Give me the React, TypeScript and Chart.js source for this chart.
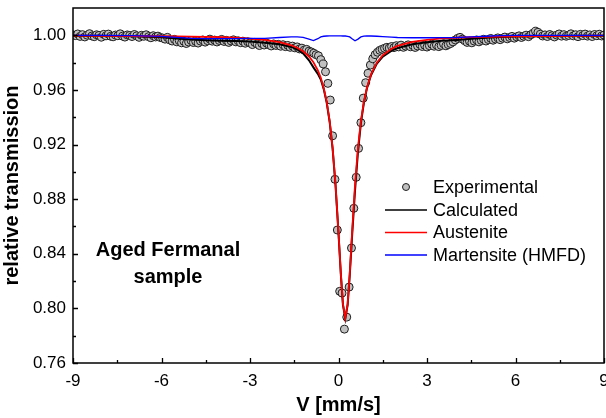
import { useEffect, useRef } from "react";
import { Chart, registerables } from "chart.js";

Chart.register(...registerables);

// Velocity channels (mm/s)
const VELOCITY = [
  -9.00, -8.92, -8.84, -8.76, -8.68, -8.60, -8.52, -8.44, -8.36, -8.28,
  -8.20, -8.12, -8.04, -7.96, -7.88, -7.80, -7.72, -7.64, -7.56, -7.48,
  -7.40, -7.32, -7.24, -7.16, -7.08, -7.00, -6.92, -6.84, -6.76, -6.68,
  -6.60, -6.52, -6.44, -6.36, -6.28, -6.20, -6.12, -6.04, -5.96, -5.88,
  -5.80, -5.72, -5.64, -5.56, -5.48, -5.40, -5.32, -5.24, -5.16, -5.08,
  -5.00, -4.92, -4.84, -4.76, -4.68, -4.60, -4.52, -4.44, -4.36, -4.28,
  -4.20, -4.12, -4.04, -3.96, -3.88, -3.80, -3.72, -3.64, -3.56, -3.48,
  -3.40, -3.32, -3.24, -3.16, -3.08, -3.00, -2.92, -2.84, -2.76, -2.68,
  -2.60, -2.52, -2.44, -2.36, -2.28, -2.20, -2.12, -2.04, -1.96, -1.88,
  -1.80, -1.72, -1.64, -1.56, -1.48, -1.40, -1.32, -1.24, -1.16, -1.08,
  -1.00, -0.92, -0.84, -0.76, -0.68, -0.60, -0.52, -0.44, -0.36, -0.28,
  -0.20, -0.12, -0.04, 0.04, 0.12, 0.20, 0.28, 0.36, 0.44, 0.52,
  0.60, 0.68, 0.76, 0.84, 0.92, 1.00, 1.08, 1.16, 1.24, 1.32,
  1.40, 1.48, 1.56, 1.64, 1.72, 1.80, 1.88, 1.96, 2.04, 2.12,
  2.20, 2.28, 2.36, 2.44, 2.52, 2.60, 2.68, 2.76, 2.84, 2.92,
  3.00, 3.08, 3.16, 3.24, 3.32, 3.40, 3.48, 3.56, 3.64, 3.72,
  3.80, 3.88, 3.96, 4.04, 4.12, 4.20, 4.28, 4.36, 4.44, 4.52,
  4.60, 4.68, 4.76, 4.84, 4.92, 5.00, 5.08, 5.16, 5.24, 5.32,
  5.40, 5.48, 5.56, 5.64, 5.72, 5.80, 5.88, 5.96, 6.04, 6.12,
  6.20, 6.28, 6.36, 6.44, 6.52, 6.60, 6.68, 6.76, 6.84, 6.92,
  7.00, 7.08, 7.16, 7.24, 7.32, 7.40, 7.48, 7.56, 7.64, 7.72,
  7.80, 7.88, 7.96, 8.04, 8.12, 8.20, 8.28, 8.36, 8.44, 8.52,
  8.60, 8.68, 8.76, 8.84, 8.92, 9.00,
];

// Measured relative transmission
const EXPERIMENTAL = [
  1.0003, 0.9998, 1.0010, 0.9992, 1.0005, 0.9988, 1.0001, 1.0012, 0.9995, 0.9990,
  1.0004, 0.9999, 0.9986, 1.0007, 0.9996, 1.0009, 0.9993, 0.9989, 1.0002, 0.9997,
  1.0011, 0.9994, 0.9987, 1.0003, 0.9999, 0.9991, 1.0006, 0.9996, 0.9985, 1.0000,
  0.9993, 1.0004, 0.9990, 0.9982, 0.9997, 0.9988, 0.9994, 0.9984, 0.9980, 0.9972,
  0.9985, 0.9966, 0.9958, 0.9970, 0.9952, 0.9961, 0.9945, 0.9956, 0.9940, 0.9951,
  0.9962, 0.9947, 0.9955, 0.9943, 0.9958, 0.9966, 0.9950, 0.9961, 0.9972, 0.9957,
  0.9965, 0.9951, 0.9962, 0.9970, 0.9955, 0.9963, 0.9948, 0.9959, 0.9967, 0.9952,
  0.9960, 0.9946, 0.9957, 0.9942, 0.9953, 0.9944, 0.9932, 0.9948, 0.9936, 0.9925,
  0.9940, 0.9929, 0.9943, 0.9931, 0.9922, 0.9937, 0.9926, 0.9934, 0.9920, 0.9931,
  0.9917, 0.9926, 0.9912, 0.9921, 0.9908, 0.9915, 0.9900, 0.9906, 0.9892, 0.9897,
  0.9884, 0.9878, 0.9869, 0.9858, 0.9850, 0.9822, 0.9790, 0.9733, 0.9648, 0.9526,
  0.9264, 0.8945, 0.8574, 0.8125, 0.8112, 0.7848, 0.7936, 0.8156, 0.8442, 0.8733,
  0.8960, 0.9172, 0.9360, 0.9540, 0.9653, 0.9722, 0.9782, 0.9828, 0.9858, 0.9876,
  0.9890, 0.9898, 0.9905, 0.9912, 0.9907, 0.9918, 0.9910, 0.9924, 0.9915, 0.9928,
  0.9912, 0.9921, 0.9930, 0.9916, 0.9925, 0.9911, 0.9922, 0.9933, 0.9918, 0.9927,
  0.9914, 0.9924, 0.9935, 0.9920, 0.9929, 0.9917, 0.9926, 0.9938, 0.9923, 0.9932,
  0.9940, 0.9952, 0.9966, 0.9978, 0.9985, 0.9972, 0.9960, 0.9948, 0.9957, 0.9945,
  0.9958, 0.9966, 0.9952, 0.9963, 0.9971, 0.9958, 0.9969, 0.9977, 0.9964, 0.9973,
  0.9981, 0.9968, 0.9979, 0.9987, 0.9974, 0.9984, 0.9992, 0.9979, 0.9989, 0.9996,
  0.9984, 0.9993, 1.0001, 0.9990, 1.0004, 1.0016, 1.0030, 1.0022, 1.0008, 0.9995,
  1.0003, 0.9991, 1.0006, 0.9997, 0.9988, 1.0002, 1.0010, 0.9994, 1.0005, 0.9993,
  0.9999, 1.0011, 0.9996, 1.0004, 0.9990, 1.0007, 0.9998, 1.0009, 0.9994, 1.0003,
  0.9991, 1.0006, 0.9997, 1.0008, 0.9995, 1.0002,
];

// Model curves: velocity grid
const MODEL_V = [
  -9.0, -8.0, -7.0, -6.0, -5.5, -5.0, -4.5, -4.0, -3.5, -3.0,
  -2.5, -2.0, -1.6, -1.4, -1.2, -1.0, -0.85, -0.7, -0.6, -0.5,
  -0.4, -0.3, -0.2, -0.1, 0.0, 0.08, 0.15, 0.23, 0.31, 0.38,
  0.46, 0.56, 0.66, 0.76, 0.86, 0.96, 1.1, 1.3, 1.5, 1.8,
  2.0, 2.5, 3.0, 3.5, 4.0, 4.5, 5.0, 5.5, 6.0, 7.0,
  8.0, 9.0,
];

const CALCULATED = [
  0.9997, 0.9996, 0.9993, 0.9985, 0.9977, 0.9969, 0.9964, 0.9961, 0.9958, 0.9954,
  0.9945, 0.9934, 0.9915, 0.9897, 0.9868, 0.9817, 0.9765, 0.9718, 0.9676, 0.9606,
  0.9507, 0.9367, 0.9171, 0.8900, 0.8550, 0.8247, 0.8028, 0.7925, 0.8026, 0.8239,
  0.8529, 0.8864, 0.9147, 0.9359, 0.9506, 0.9608, 0.9707, 0.9793, 0.9844, 0.9888,
  0.9906, 0.9934, 0.9949, 0.9960, 0.9966, 0.9974, 0.9982, 0.9988, 0.9992, 0.9994,
  0.9996, 0.9997,
];

const AUSTENITE = [
  0.9997, 0.9996, 0.9995, 0.9993, 0.9992, 0.9991, 0.9989, 0.9986, 0.9982, 0.9976,
  0.9967, 0.9950, 0.9927, 0.9909, 0.9883, 0.9845, 0.9803, 0.9743, 0.9688, 0.9613,
  0.9512, 0.9371, 0.9175, 0.8904, 0.8554, 0.8251, 0.8033, 0.7930, 0.8033, 0.8251,
  0.8554, 0.8904, 0.9175, 0.9371, 0.9512, 0.9613, 0.9712, 0.9800, 0.9854, 0.9902,
  0.9922, 0.9952, 0.9967, 0.9977, 0.9982, 0.9986, 0.9989, 0.9991, 0.9992, 0.9994,
  0.9996, 0.9997,
];

const MARTENSITE = [
  1.0000, 1.0000, 0.9998, 0.9992, 0.9985, 0.9978, 0.9975, 0.9975, 0.9976, 0.9978,
  0.9978, 0.9984, 0.9988, 0.9988, 0.9985, 0.9972, 0.9962, 0.9975, 0.9988, 0.9993,
  0.9995, 0.9996, 0.9996, 0.9996, 0.9996, 0.9996, 0.9995, 0.9995, 0.9993, 0.9988,
  0.9975, 0.9960, 0.9972, 0.9988, 0.9994, 0.9995, 0.9995, 0.9993, 0.9990, 0.9986,
  0.9984, 0.9982, 0.9982, 0.9983, 0.9984, 0.9988, 0.9993, 0.9997, 1.0000, 1.0000,
  1.0000, 1.0000,
];

const X_TICKS = [-9, -6, -3, 0, 3, 6, 9];
const X_MINOR = [-7.5, -4.5, -1.5, 1.5, 4.5, 7.5];
const Y_TICKS = [0.76, 0.8, 0.84, 0.88, 0.92, 0.96, 1.0];
const Y_MINOR = [0.78, 0.82, 0.86, 0.9, 0.94, 0.98];

const SERIES_NAMES = ["Experimental", "Calculated", "Austenite", "Martensite (HMFD)"];
const SAMPLE_LABEL = ["Aged Fermanal", "sample"];

const FONT = "'Liberation Sans', Arial, Helvetica, sans-serif";
const POINT_FILL = "#c0c0c0";
const POINT_EDGE = "#1e1e1e";
const COL_CALC = "#000000";
const COL_AUST = "#ff0000";
const COL_MART = "#0000ff";

const pairs = (xs: number[], ys: number[]) => xs.map((x, i) => ({ x, y: ys[i] }));

const decorPlugin = {
  id: "decor",
  afterDraw(chart: any) {
    const { ctx, chartArea: a } = chart;
    const xs = chart.scales.x;
    const ys = chart.scales.y;
    ctx.save();
    // frame
    ctx.strokeStyle = "#000";
    ctx.lineWidth = 1.5;
    ctx.strokeRect(a.left, a.top, a.right - a.left, a.bottom - a.top);
    // inward ticks
    ctx.lineWidth = 1.3;
    ctx.beginPath();
    X_TICKS.forEach((v) => {
      const p = Math.round(xs.getPixelForValue(v)) + 0.5;
      ctx.moveTo(p, a.bottom);
      ctx.lineTo(p, a.bottom - 5);
    });
    X_MINOR.forEach((v) => {
      const p = Math.round(xs.getPixelForValue(v)) + 0.5;
      ctx.moveTo(p, a.bottom);
      ctx.lineTo(p, a.bottom - 3);
    });
    Y_TICKS.forEach((v) => {
      const p = Math.round(ys.getPixelForValue(v)) + 0.5;
      ctx.moveTo(a.left, p);
      ctx.lineTo(a.left + 5, p);
    });
    Y_MINOR.forEach((v) => {
      const p = Math.round(ys.getPixelForValue(v)) + 0.5;
      ctx.moveTo(a.left, p);
      ctx.lineTo(a.left + 3, p);
    });
    ctx.stroke();

    // legend
    const lx0 = 385;
    const lx1 = 427;
    const tx = 433;
    const rows = [187, 210, 232.5, 255];
    ctx.font = `18px ${FONT}`;
    ctx.fillStyle = "#000";
    ctx.textBaseline = "middle";
    ctx.textAlign = "left";
    SERIES_NAMES.forEach((name, i) => {
      const y = rows[i];
      if (i === 0) {
        ctx.beginPath();
        ctx.arc((lx0 + lx1) / 2, y, 3.5, 0, Math.PI * 2);
        ctx.fillStyle = POINT_FILL;
        ctx.fill();
        ctx.lineWidth = 1;
        ctx.strokeStyle = POINT_EDGE;
        ctx.stroke();
      } else {
        ctx.beginPath();
        ctx.moveTo(lx0, y);
        ctx.lineTo(lx1, y);
        ctx.lineWidth = 1.5;
        ctx.strokeStyle = [COL_CALC, COL_AUST, COL_MART][i - 1];
        ctx.stroke();
      }
      ctx.fillStyle = "#000";
      ctx.fillText(name, tx, y + 1);
    });

    // sample annotation
    ctx.font = `bold 20px ${FONT}`;
    ctx.textAlign = "center";
    ctx.fillText(SAMPLE_LABEL[0], 168, 250);
    ctx.fillText(SAMPLE_LABEL[1], 168, 277);
    ctx.restore();
  },
};

export default function App() {
  const ref = useRef<HTMLCanvasElement | null>(null);

  useEffect(() => {
    if (!ref.current) return;
    const chart = new Chart(ref.current, {
      type: "scatter",
      data: {
        datasets: [
          {
            label: SERIES_NAMES[3],
            data: pairs(MODEL_V, MARTENSITE),
            showLine: true,
            borderColor: COL_MART,
            borderWidth: 1.3,
            pointRadius: 0,
            tension: 0,
            order: 0,
          },
          {
            label: SERIES_NAMES[2],
            data: pairs(MODEL_V, AUSTENITE),
            showLine: true,
            borderColor: COL_AUST,
            borderWidth: 1.8,
            pointRadius: 0,
            tension: 0,
            order: 1,
          },
          {
            label: SERIES_NAMES[1],
            data: pairs(MODEL_V, CALCULATED),
            showLine: true,
            borderColor: COL_CALC,
            borderWidth: 2,
            pointRadius: 0,
            tension: 0,
            order: 2,
          },
          {
            label: SERIES_NAMES[0],
            data: pairs(VELOCITY, EXPERIMENTAL),
            showLine: false,
            pointRadius: 4,
            pointBorderWidth: 1,
            pointBackgroundColor: POINT_FILL,
            pointBorderColor: POINT_EDGE,
            order: 3,
          },
        ],
      },
      options: {
        animation: false,
        responsive: false,
        events: [],
        layout: { padding: { top: 8, right: 16, left: 0, bottom: 0 } },
        plugins: { legend: { display: false }, tooltip: { enabled: false } },
        scales: {
          x: {
            type: "linear",
            min: -9,
            max: 9,
            afterBuildTicks: (s: any) => {
              s.ticks = X_TICKS.map((v) => ({ value: v }));
            },
            afterFit: (s: any) => {
              s.height = 55;
              s.paddingLeft = 0;
              s.paddingRight = 0;
            },
            grid: { display: false, drawTicks: false },
            border: { display: false },
            ticks: {
              color: "#000",
              font: { family: FONT, size: 17 },
              padding: 8,
              maxRotation: 0,
              autoSkip: false,
              callback: (v: any) => String(v),
            },
            title: {
              display: true,
              text: "V [mm/s]",
              color: "#000",
              font: { family: FONT, size: 20, weight: "bold" },
              padding: { top: 0, bottom: 1 },
            },
          },
          y: {
            type: "linear",
            min: 0.76,
            max: 1.02,
            afterBuildTicks: (s: any) => {
              s.ticks = Y_TICKS.map((v) => ({ value: v }));
            },
            afterFit: (s: any) => {
              s.width = 73;
              s.paddingTop = 0;
              s.paddingBottom = 0;
            },
            grid: { display: false, drawTicks: false },
            border: { display: false },
            ticks: {
              color: "#000",
              font: { family: FONT, size: 17 },
              padding: 7,
              autoSkip: false,
              callback: (v: any) => Number(v).toFixed(2),
            },
            title: {
              display: true,
              text: "relative transmission",
              color: "#000",
              font: { family: FONT, size: 20, weight: "bold" },
              padding: { top: 0, bottom: 0 },
            },
          },
        },
      },
      plugins: [decorPlugin],
    });
    return () => chart.destroy();
  }, []);

  return (
    <div
      style={{
        position: "fixed",
        left: 0,
        top: 0,
        width: 606,
        height: 418,
        overflow: "hidden",
        background: "#fff",
      }}
    >
      <canvas ref={ref} width={620} height={418} style={{ width: 620, height: 418, display: "block" }} />
    </div>
  );
}
